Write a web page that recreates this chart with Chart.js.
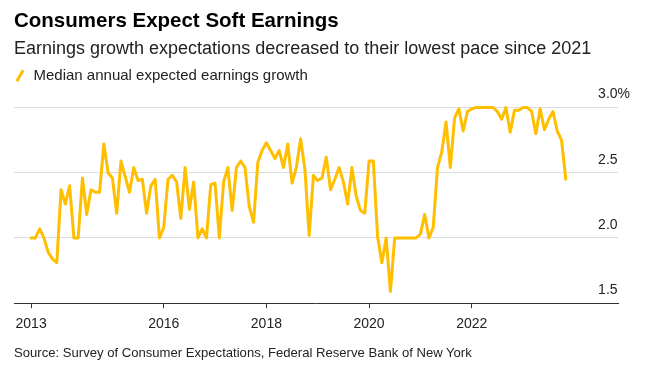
<!DOCTYPE html>
<html>
<head>
<meta charset="utf-8">
<script src="https://cdn.jsdelivr.net/npm/chart.js@4"></script>
<style>
  html, body { margin: 0; padding: 0; background: #ffffff; }
  #wrap { position: relative; width: 646px; height: 370px; overflow: hidden; }
  #c { position: absolute; left: 0; top: 0; }
  #source { position: absolute; left: 14px; top: 345px; font-family: "Liberation Sans", Arial, sans-serif; font-size: 13.1px; color: #222; white-space: nowrap; }
</style>
</head>
<body>
<div id="wrap">
  <canvas id="c" width="646" height="370"></canvas>
  <div id="source">Source: Survey of Consumer Expectations, Federal Reserve Bank of New York</div>
</div>
<script>
// ---- Data ----
const titleText = 'Consumers Expect Soft Earnings';
const subtitleText = 'Earnings growth expectations decreased to their lowest pace since 2021';
const seriesName = 'Median annual expected earnings growth';

// Monthly survey values, June 2013 onward (percent)
const values = [
  2.00, 2.00, 2.07, 2.00, 1.89, 1.84, 1.81, 2.37, 2.26, 2.40, 2.00, 2.00,
  2.46, 2.18, 2.37, 2.35, 2.35, 2.72, 2.50, 2.46, 2.19, 2.59, 2.47, 2.35,
  2.54, 2.44, 2.45, 2.19, 2.40, 2.45, 2.00, 2.08, 2.45, 2.48, 2.43, 2.15,
  2.54, 2.22, 2.43, 2.00, 2.07, 2.00, 2.41, 2.42, 2.00, 2.43, 2.54, 2.21,
  2.54, 2.59, 2.54, 2.24, 2.12, 2.58, 2.67, 2.73, 2.67, 2.61, 2.67, 2.54,
  2.72, 2.42, 2.54, 2.76, 2.53, 2.02, 2.48, 2.44, 2.46, 2.62, 2.37, 2.45,
  2.54, 2.43, 2.26, 2.54, 2.32, 2.21, 2.19, 2.59, 2.59, 2.01, 1.81, 2.00,
  1.59, 2.00, 2.00, 2.00, 2.00, 2.00, 2.00, 2.03, 2.18, 2.00, 2.08, 2.54,
  2.66, 2.89, 2.54, 2.92, 2.99, 2.82, 2.97, 2.99, 3.00, 3.00, 3.00, 3.00,
  3.00, 2.97, 2.91, 3.00, 2.81, 2.98, 2.98, 3.00, 3.00, 2.97, 2.80, 2.99,
  2.83, 2.91, 2.97, 2.82, 2.75, 2.45
];

// Month categories (YYYY-MM), starting June 2013
const startYear = 2013, startMonth = 6;
const months = values.map((_, i) => {
  const m = startMonth - 1 + i;
  const y = startYear + Math.floor(m / 12);
  return y + '-' + String((m % 12) + 1).padStart(2, '0');
});

const xTickMonths = ['2013-06', '2016-01', '2018-01', '2020-01', '2022-01'];
const xTickLabels = ['2013', '2016', '2018', '2020', '2022'];
const yTickValues = [1.5, 2.0, 2.5, 3.0];
const yTickLabels = ['1.5', '2.0', '2.5', '3.0%'];

// ---- Chart ----
const FONT = '"Liberation Sans", Arial, sans-serif';
const points = values.map((v, i) => ({ x: i, y: v }));

new Chart(document.getElementById('c'), {
  type: 'line',
  data: {
    datasets: [{
      label: seriesName,
      data: points,
      borderColor: '#ffbf00',
      backgroundColor: '#ffbf00',
      borderWidth: 3,
      borderJoinStyle: 'round',
      borderCapStyle: 'round',
      tension: 0,
      pointRadius: 0,
      pointHoverRadius: 0,
      pointStyle: 'line',
      pointRotation: -60,
      pointBorderWidth: 3,
      pointBorderColor: '#ffbf00'
    }]
  },
  options: {
    responsive: false,
    animation: false,
    events: [],
    layout: { padding: { left: 14, right: 0, top: 0, bottom: 29 } },
    plugins: {
      title: {
        display: true, text: titleText, align: 'start', color: '#000',
        font: { family: FONT, size: 20.5, weight: 'bold' },
        padding: { top: 9, bottom: 4 }
      },
      subtitle: {
        display: true, text: subtitleText, align: 'start', color: '#222',
        font: { family: FONT, size: 18 },
        padding: { top: 1, bottom: 8 }
      },
      legend: {
        display: true, position: 'top', align: 'start',
        labels: {
          usePointStyle: true, boxWidth: 12, boxHeight: 9, padding: 0,
          color: '#222', font: { family: FONT, size: 15 }
        }
      },
      tooltip: { enabled: false }
    },
    scales: {
      x: {
        type: 'linear',
        min: -4, max: 137.2,
        afterBuildTicks: s => { s.ticks = xTickMonths.map(m => ({ value: months.indexOf(m) })); },
        ticks: {
          autoSkip: false, maxRotation: 0, padding: 8, color: '#222',
          font: { family: FONT, size: 14 },
          callback: (v, i) => xTickLabels[i]
        },
        grid: { drawOnChartArea: false, drawTicks: true, tickLength: 5, color: '#333' },
        border: { display: true, color: '#333', width: 1, z: 1 }
      },
      y: {
        type: 'linear',
        position: 'right',
        min: 1.5, max: 3.11,
        afterBuildTicks: s => { s.ticks = yTickValues.map(v => ({ value: v })); },
        afterFit: s => { s.width = 28; },
        ticks: {
          mirror: true, crossAlign: 'far',
          padding: 12, labelOffset: -13, color: '#222',
          font: { family: FONT, size: 14 },
          callback: (v, i) => yTickLabels[i]
        },
        grid: {
          drawTicks: false, lineWidth: 1,
          color: c => (c.tick && c.tick.value === 1.5) ? 'rgba(0,0,0,0)' : '#dcdcdc'
        },
        border: { display: false }
      }
    }
  }
});
</script>
</body>
</html>
